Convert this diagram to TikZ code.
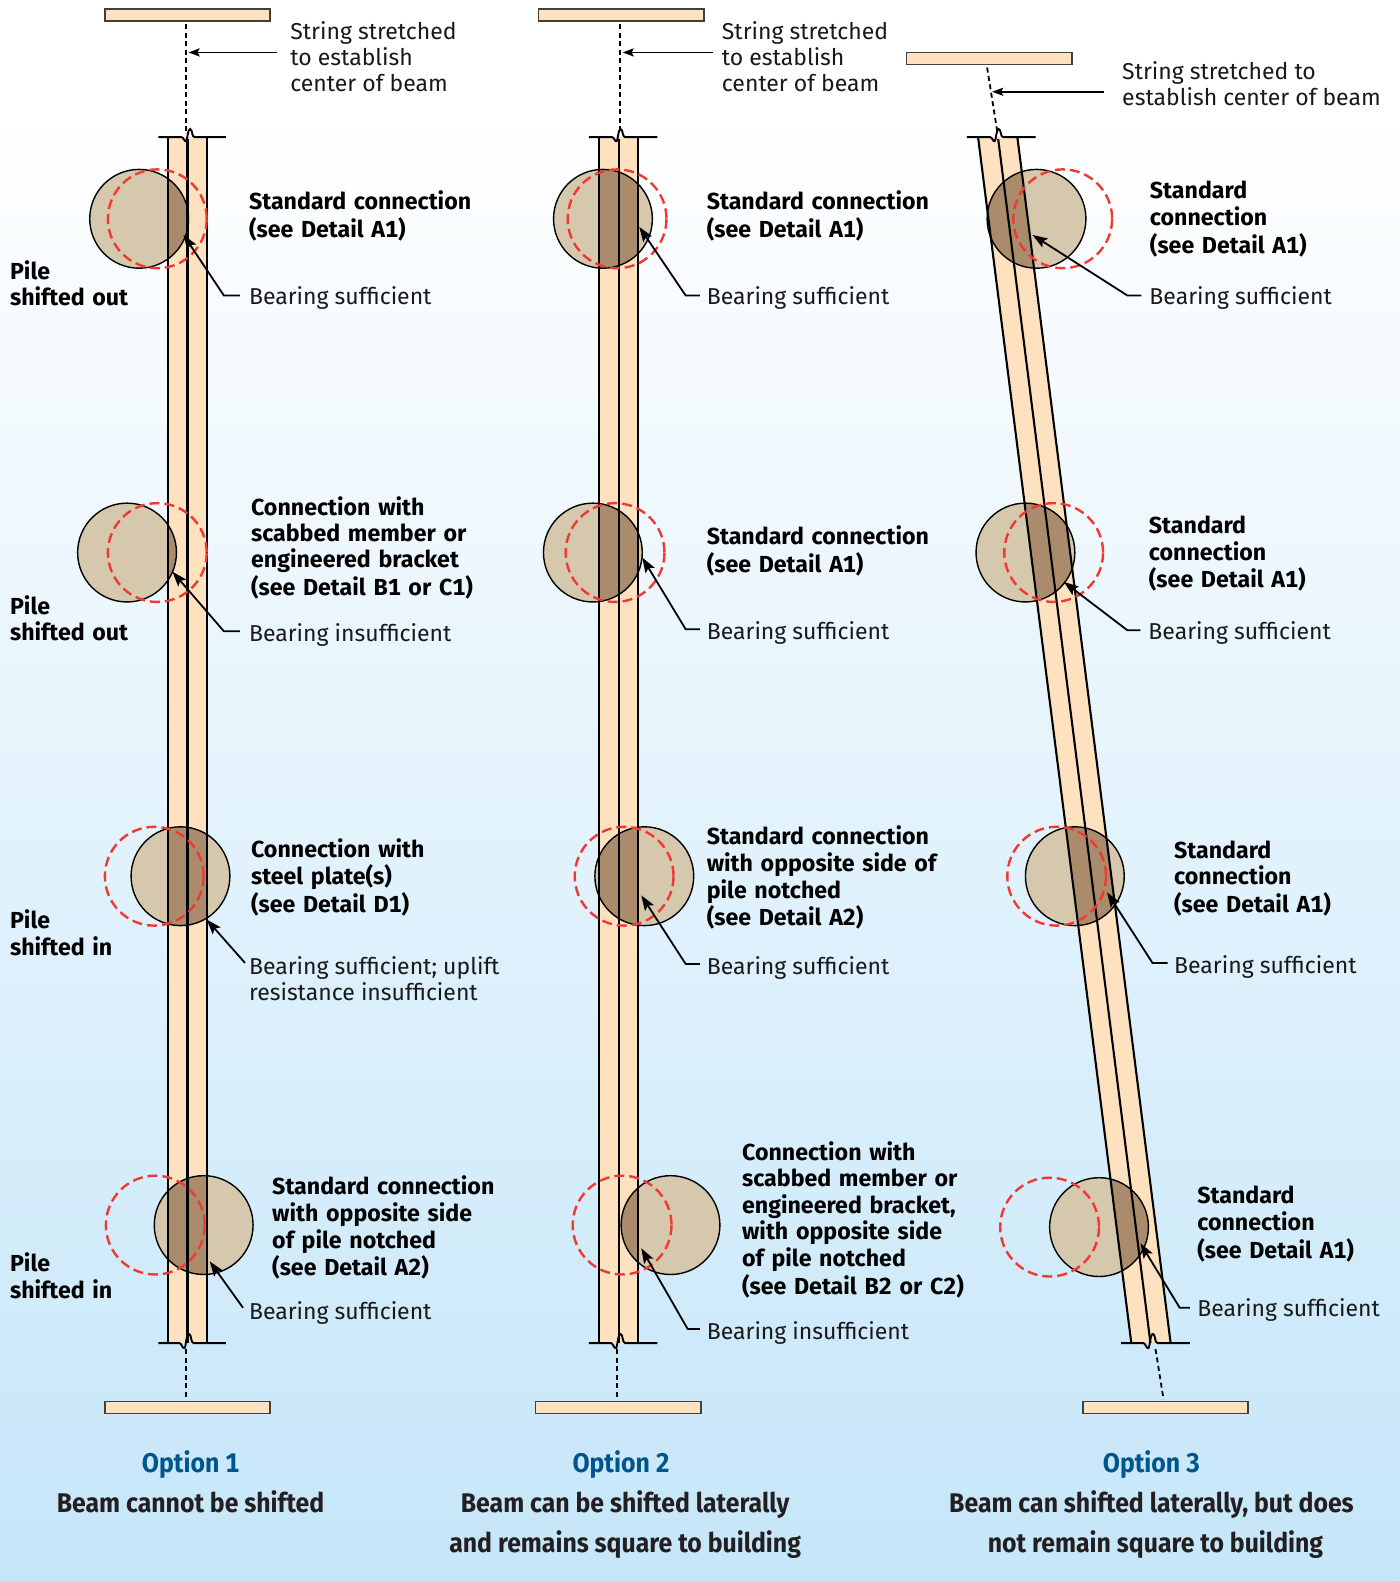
\documentclass[tikz,border=0pt]{standalone}
\usepackage{fontspec}
\usetikzlibrary{arrows.meta}
\setmainfont[Numbers=Monospaced,BoldFeatures={WordSpace=1.4}]{Fira Sans}
\newfontfamily\capfont[FakeStretch=0.92,Numbers=Monospaced]{Fira Sans}
\definecolor{beamc}{HTML}{FEE2C0}
\definecolor{tanc}{HTML}{D6C8AD}
\definecolor{darkc}{HTML}{AA8C6C}
\definecolor{redc}{HTML}{EE3A33}
\definecolor{bgc}{HTML}{C5E6F9}
\definecolor{midc}{HTML}{E8F5FD}
\definecolor{optc}{HTML}{00558C}
\definecolor{inkc}{HTML}{231F20}
\newcommand{\tb}[1]{\begin{tabular}[t]{@{}l@{}}#1\end{tabular}}
\newcommand{\tanc}[2]{\fill[tanc] (#1,#2) circle[radius=49];
  \begin{scope}\clip (#1,#2) circle[radius=49];\fill[darkc] \curbeam;\end{scope}}
\newcommand{\ring}[3]{\draw[circline] (#1,#3) circle[radius=49];
  \draw[redring] (#2,#3) circle[radius=49];}
\tikzset{
  x=1.0086pt,y=-1.0086pt,
  beamline/.style={line width=2.1pt,draw=black},
  baseline/.style={line width=1.9pt,draw=black},
  circline/.style={line width=1.4pt,draw=black},
  redring/.style={line width=2.4pt,draw=redc,dash pattern=on 10pt off 5pt},
  plate/.style={draw=black!75,line width=1.6pt,fill=beamc},
  stringline/.style={line width=1.8pt,draw=black,dash pattern=on 5pt off 3.5pt},
  leader/.style={line width=1.8pt,draw=black,-{Stealth[length=15pt,width=10.5pt,inset=3pt]}},
  stringarrow/.style={line width=1.8pt,draw=black,-{Stealth[length=11pt,width=8pt,inset=2pt]}},
  reg/.style={anchor=base west,yshift=-1pt,inner sep=0pt,outer sep=0pt,font=\fontsize{23}{26.3}\selectfont,text=black!90},
  bld/.style={anchor=base west,yshift=-1pt,inner sep=0pt,outer sep=0pt,font=\fontsize{23.2}{26.1}\selectfont\bfseries,text=black},
  opt/.style={anchor=base,yshift=-1pt,inner sep=0pt,outer sep=0pt,font=\fontsize{27}{30}\selectfont\capfont\bfseries,text=optc},
  capt/.style={anchor=base,yshift=-1pt,inner sep=0pt,outer sep=0pt,font=\fontsize{27}{30}\selectfont\capfont\bfseries,text=inkc},
}
\begin{document}
\begin{tikzpicture}
\useasboundingbox (0,0) rectangle (1388,1568);
\fill[white] (0,0) rectangle (1388,1568);
\shade[top color=white,middle color=midc,bottom color=bgc] (0,100) rectangle (1388,1568);

%%% Column 1
\def\curbeam{(167,136)--(205.5,136)--(205.5,1332)--(167,1332)--cycle}
\fill[beamc] \curbeam;
\tanc{138}{217}\tanc{126}{548}\tanc{179}{869}\tanc{202}{1215}
\draw[beamline] (167,136)--(167,1332) (186,138)--(186,1332) (205.5,136)--(205.5,1332);
\ring{138}{156}{217}\ring{126}{156}{548}\ring{179}{153}{869}\ring{202}{154}{1215}
\draw[baseline] (157,136)--(180,136) .. controls (182,136) and (183,141) .. (184.5,140) .. controls (186,139) and (186,128) .. (188.5,128) .. controls (191,128) and (190,136) .. (193,136) --(224,136);
\draw[baseline] (157,1332)--(178,1332) .. controls (180,1332) and (181,1338) .. (183,1337) .. controls (184.5,1336) and (184.5,1323) .. (187.5,1323) .. controls (190,1323) and (189,1332) .. (192,1332) --(224,1332);
\draw[plate] (104,9) rectangle (268,21);
\draw[plate] (104,1390) rectangle (268,1402);
\coordinate (s1a) at (184.4,24); \coordinate (s1b) at (184.4,130);
\coordinate (s1c) at (184.4,1338); \coordinate (s1d) at (184.4,1388);
\draw[stringline] (s1a)--(s1b);
\draw[stringline] (s1c)--(s1d);
\node[reg] (st1) at (288,38) {\tb{String stretched\\to establish\\center of beam}};
\coordinate (st1k) at (275,52); \coordinate (st1t) at (187,52);
\draw[stringarrow] (st1k)--(st1t);

\node[bld] (a1) at (247,207) {\tb{Standard connection\\(see Detail A1)}};
\node[reg] (a1b) at (247,301) {Bearing sufficient};
\coordinate (a1s) at (238,293); \coordinate (a1k) at (222,293); \coordinate (a1t) at (182,233);
\draw[leader] (a1s)--(a1k)--(a1t);
\node[bld] (p1) at (10,276) {\tb{Pile\\shifted out}};

\node[bld] (a2) at (249,510) {\tb{Connection with\\scabbed member or\\engineered bracket\\(see Detail B1 or C1)}};
\node[reg] (a2b) at (247,635) {Bearing insufficient};
\coordinate (a2s) at (238,626); \coordinate (a2k) at (222,626); \coordinate (a2t) at (171,567);
\draw[leader] (a2s)--(a2k)--(a2t);
\node[bld] (p2) at (10,608) {\tb{Pile\\shifted out}};

\node[bld] (a3) at (249,849) {\tb{Connection with\\steel plate(s)\\(see Detail D1)}};
\node[reg] (a3b) at (247,965) {\tb{Bearing sufficient; uplift\\resistance insufficient}};
\coordinate (a3s) at (243,955); \coordinate (a3t) at (205,912);
\draw[leader] (a3s)--(a3t);
\node[bld] (p3) at (10,920) {\tb{Pile\\shifted in}};

\node[bld] (a4) at (270,1184) {\tb{Standard connection\\with opposite side\\of pile notched\\(see Detail A2)}};
\node[reg] (a4b) at (247,1308) {Bearing sufficient};
\coordinate (a4s) at (241,1297); \coordinate (a4t) at (208,1251);
\draw[leader] (a4s)--(a4t);
\node[bld] (p4) at (10,1260) {\tb{Pile\\shifted in}};

%%% Column 2
\def\curbeam{(594,136)--(633,136)--(633,1332)--(594,1332)--cycle}
\fill[beamc] \curbeam;
\tanc{598}{217}\tanc{588}{548}\tanc{639}{869}\tanc{665}{1215}
\draw[beamline] (594,136)--(594,1332) (613.5,138)--(613.5,1332) (633,136)--(633,1332);
\ring{598}{612}{217}\ring{588}{610}{548}\ring{639}{619}{869}\ring{665}{617}{1215}
\draw[baseline] (584,136)--(607,136) .. controls (609,136) and (610,141) .. (611.5,140) .. controls (613,139) and (613,128) .. (615.5,128) .. controls (618,128) and (617,136) .. (620,136) --(652,136);
\draw[baseline] (584,1332)--(606,1332) .. controls (608,1332) and (609,1338) .. (611,1337) .. controls (612.5,1336) and (612.5,1323) .. (615.5,1323) .. controls (618,1323) and (617,1332) .. (620,1332) --(652,1332);
\draw[plate] (534,9) rectangle (698,21);
\draw[plate] (531,1390) rectangle (695,1402);
\coordinate (s2a) at (614.5,24); \coordinate (s2b) at (614.5,130);
\coordinate (s2c) at (612,1338); \coordinate (s2d) at (612,1388);
\draw[stringline] (s2a)--(s2b);
\draw[stringline] (s2c)--(s2d);
\node[reg] (st2) at (716,38) {\tb{String stretched\\to establish\\center of beam}};
\coordinate (st2k) at (707,52); \coordinate (st2t) at (617.5,52);
\draw[stringarrow] (st2k)--(st2t);

\node[bld] (b1) at (701,207) {\tb{Standard connection\\(see Detail A1)}};
\node[reg] (b1b) at (701,301) {Bearing sufficient};
\coordinate (b1s) at (694,293); \coordinate (b1k) at (680,293); \coordinate (b1t) at (634,225);
\draw[leader] (b1s)--(b1k)--(b1t);

\node[bld] (b2) at (701,539) {\tb{Standard connection\\(see Detail A1)}};
\node[reg] (b2b) at (701,633) {Bearing sufficient};
\coordinate (b2s) at (694,624); \coordinate (b2k) at (680,624); \coordinate (b2t) at (637,553);
\draw[leader] (b2s)--(b2k)--(b2t);

\node[bld] (b3) at (701,837) {\tb{Standard connection\\with opposite side of\\pile notched\\(see Detail A2)}};
\node[reg] (b3b) at (701,965) {Bearing sufficient};
\coordinate (b3s) at (694,956); \coordinate (b3k) at (680,956); \coordinate (b3t) at (636,888);
\draw[leader] (b3s)--(b3k)--(b3t);

\node[bld] (b4) at (736,1150) {\tb{Connection with\\scabbed member or\\engineered bracket,\\with opposite side\\of pile notched\\(see Detail B2 or C2)}};
\node[reg] (b4b) at (701,1327) {Bearing insufficient};
\coordinate (b4s) at (694,1318); \coordinate (b4k) at (682,1318); \coordinate (b4t) at (636,1238);
\draw[leader] (b4s)--(b4k)--(b4t);

%%% Column 3
\def\curbeam{(970,136)--(1009,136)--(1161,1332)--(1122,1332)--cycle}
\fill[beamc] \curbeam;
\tanc{1028}{217}\tanc{1017}{548}\tanc{1066}{869}\tanc{1090}{1217}
\draw[beamline] (970,136)--(1122,1332) (990,138)--(1141,1332) (1009,136)--(1161,1332);
\ring{1028}{1054}{217}\ring{1017}{1045}{548}\ring{1066}{1048}{869}\ring{1090}{1041}{1217}
\draw[baseline] (959,136)--(982,136) .. controls (984,136) and (985,141) .. (986.5,140) .. controls (988,139) and (988,128) .. (990.5,128) .. controls (993,128) and (992,136) .. (995,136) --(1027,136);
\draw[baseline] (1112,1332)--(1134,1332) .. controls (1136,1332) and (1137,1338) .. (1139,1337) .. controls (1140.5,1336) and (1140.5,1323) .. (1143.5,1323) .. controls (1146,1323) and (1145,1332) .. (1148,1332) --(1180,1332);
\draw[plate] (899,52) rectangle (1063,64);
\draw[plate] (1074,1390) rectangle (1238,1402);
\coordinate (s3a) at (979,67); \coordinate (s3b) at (989,130);
\coordinate (s3c) at (1146,1338); \coordinate (s3d) at (1154,1388);
\draw[stringline] (s3a)--(s3b);
\draw[stringline] (s3c)--(s3d);
\node[reg] (st3) at (1113,78) {\tb{String stretched to\\establish center of beam}};
\coordinate (st3k) at (1095,91); \coordinate (st3t) at (984,91);
\draw[stringarrow] (st3k)--(st3t);

\node[bld] (c1) at (1140.5,196) {\tb{Standard\\connection\\(see Detail A1)}};
\node[reg] (c1b) at (1140,301) {Bearing sufficient};
\coordinate (c1s) at (1132,293); \coordinate (c1k) at (1118,293); \coordinate (c1t) at (1024,233);
\draw[leader] (c1s)--(c1k)--(c1t);

\node[bld] (c2) at (1139.5,528) {\tb{Standard\\connection\\(see Detail A1)}};
\node[reg] (c2b) at (1139,633) {Bearing sufficient};
\coordinate (c2s) at (1131,625); \coordinate (c2k) at (1118,625); \coordinate (c2t) at (1055,577);
\draw[leader] (c2s)--(c2k)--(c2t);

\node[bld] (c3) at (1164.5,850) {\tb{Standard\\connection\\(see Detail A1)}};
\node[reg] (c3b) at (1164.5,964) {Bearing sufficient};
\coordinate (c3s) at (1158,955); \coordinate (c3k) at (1143,955); \coordinate (c3t) at (1098,885);
\draw[leader] (c3s)--(c3k)--(c3t);

\node[bld] (c4) at (1187.5,1193) {\tb{Standard\\connection\\(see Detail A1)}};
\node[reg] (c4b) at (1187.5,1305) {Bearing sufficient};
\coordinate (c4s) at (1180,1297); \coordinate (c4k) at (1170,1297); \coordinate (c4t) at (1131,1233);
\draw[leader] (c4s)--(c4k)--(c4t);

%%% Captions
\node[opt] (o1) at (189,1459) {Option 1};
\node[capt] (o1a) at (189,1499) {Beam cannot be shifted};
\node[opt] (o2) at (616,1459) {Option 2};
\node[capt] (o2a) at (620,1499) {Beam can be shifted laterally};
\node[capt] (o2b) at (620,1539) {and remains square to building};
\node[opt] (o3) at (1142,1459) {Option 3};
\node[capt] (o3a) at (1142,1499) {Beam can shifted laterally, but does};
\node[capt] (o3b) at (1146,1539) {not remain square to building};
\end{tikzpicture}
\end{document}
